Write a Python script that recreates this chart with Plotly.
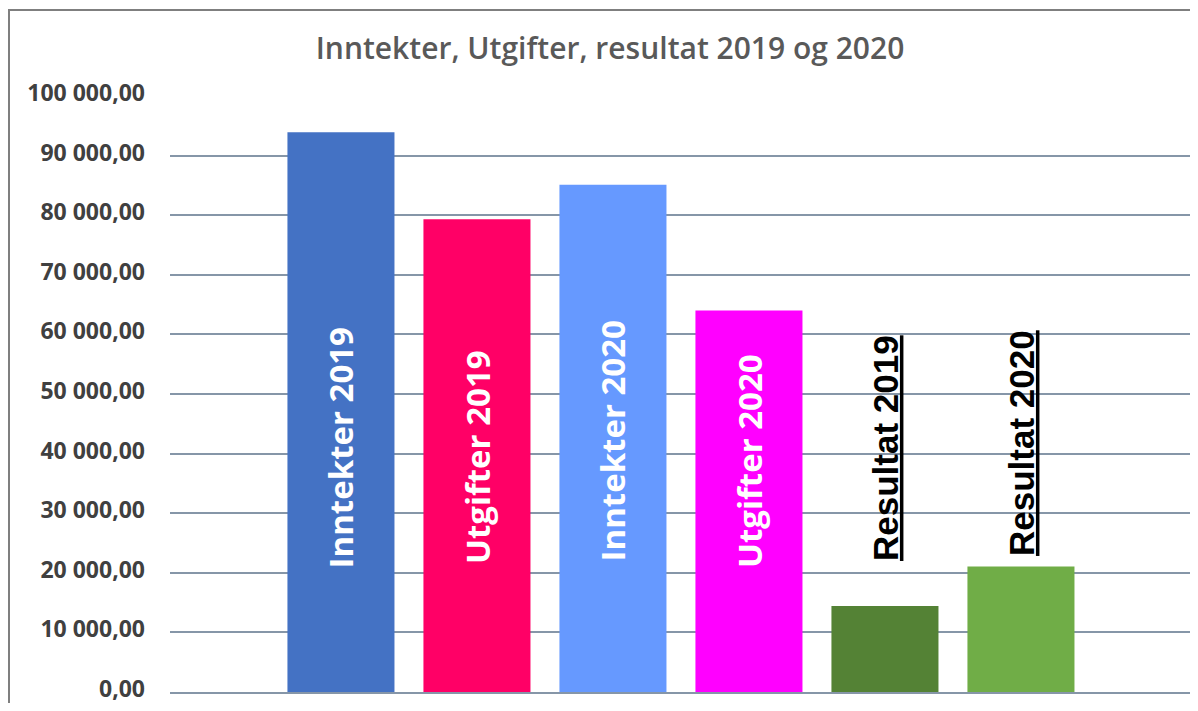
import plotly.graph_objects as go

categories = ["Inntekter 2019", "Utgifter 2019", "Inntekter 2020", "Utgifter 2020", "Resultat 2019", "Resultat 2020"]
values = [93900, 79300, 85100, 64000, 14450, 21050]
bar_colors = ["#4472C4", "#FF0066", "#6699FF", "#FF00FF", "#548235", "#70AD47"]
y_ticks = [0, 10000, 20000, 30000, 40000, 50000, 60000, 70000, 80000, 90000, 100000]

# label styling (not data)
label_colors = ["white", "white", "white", "white", "black", "black"]
label_base = [20470, 21140, 21640, 20470, 21640, 22480]

# page has an 8px body margin; figure sized to avoid scrollbars
OFF = 8
W, H = 1182, 695
L, R, T, B = 170 - OFF, 0, 96 - OFF, H - (692 - OFF)
pw, ph = W - L - R, H - T - B

xs = list(range(len(categories)))
fig = go.Figure()
fig.add_trace(go.Bar(x=xs, y=values, marker=dict(color=bar_colors, line=dict(width=0)),
                     width=0.787, hovertext=categories, hoverinfo="text+y"))

for i, cat in enumerate(categories):
    is_res = cat.startswith("Resultat")
    fig.add_annotation(
        x=xs[i], y=label_base[i], xref="x", yref="y",
        text=cat, showarrow=False, textangle=-90,
        xanchor="center", yanchor="bottom",
        font=dict(
            family="Liberation Sans, Arial" if is_res else "Open Sans",
            size=35 if is_res else 33,
            color=label_colors[i],
            weight="bold",
            lineposition="under" if is_res else "none",
        ),
    )

grid_col = "#8696a8"
fig.update_layout(
    width=W, height=H,
    margin=dict(l=L, r=R, t=T, b=B, pad=0, autoexpand=False),
    paper_bgcolor="white", plot_bgcolor="white",
    separators=", ",
    showlegend=False,
    title=dict(text="Inntekter, Utgifter, resultat 2019 og 2020",
               x=(610 - OFF) / W, xanchor="center", y=1 - (48 - OFF) / H, yanchor="middle",
               xref="container", yref="container", automargin=False,
               font=dict(family="Open Sans", size=30, color="#595959", weight=600)),
    xaxis=dict(range=[-1.257, 6.243], showticklabels=False, ticks="", showgrid=False,
               zeroline=False, showline=True, linecolor=grid_col, linewidth=1.5, automargin=False),
    yaxis=dict(range=[0, 100000], tickvals=y_ticks, tickformat=",.2f",
               showgrid=True, gridcolor=grid_col, gridwidth=1.5, zeroline=False,
               ticks="", ticklabelstandoff=24, ticklabelshift=-3, ticklabeloverflow="allow",
               automargin=False,
               tickfont=dict(family="Open Sans", size=23, color="#404040", weight="bold")),
    shapes=[dict(type="rect", xref="paper", yref="paper",
                 x0=(0 - L + 1) / pw, x1=(W + 20 - L) / pw,
                 y0=(H - B - (H + 20)) / ph, y1=(H - B - 2) / ph,
                 line=dict(color="#7f7f7f", width=2), fillcolor="rgba(0,0,0,0)", layer="below")],
)

fig.write_html("out.html")
